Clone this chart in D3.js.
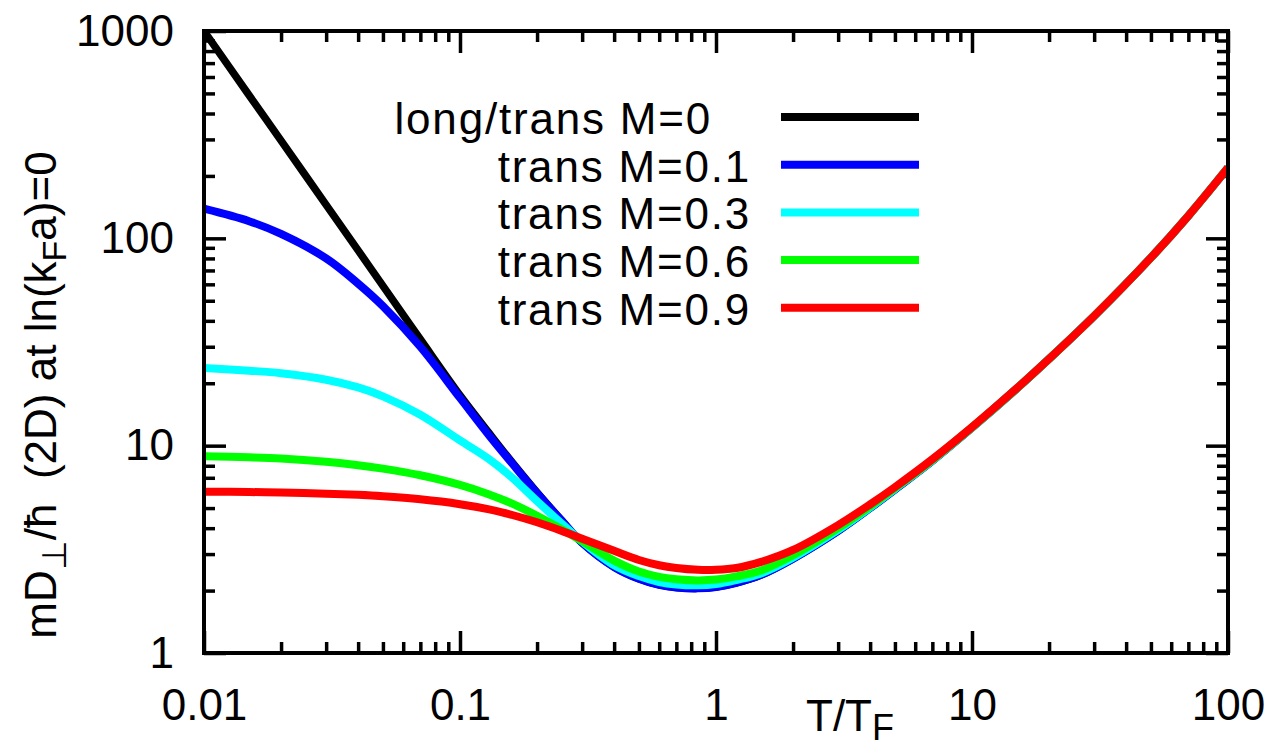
<!DOCTYPE html>
<html>
<head>
<meta charset="utf-8">
<script src="https://cdn.jsdelivr.net/npm/d3@7"></script>
<style>
  html, body { margin: 0; padding: 0; background: #fff; }
  svg { display: block; }
  text { font-family: "Liberation Sans", Arial, Helvetica, sans-serif; fill: #000; }
</style>
</head>
<body>
<svg id="chart" width="1280" height="748"></svg>
<script>
// Reduced temperature grid T/T_F
const temps = [0.01, 0.015, 0.02, 0.03, 0.04, 0.05, 0.07, 0.1, 0.13, 0.16, 0.2, 0.25, 0.3, 0.4, 0.5, 0.6, 0.7, 0.85, 1, 1.2, 1.5, 2, 3, 4, 5, 7, 10, 15, 20, 30, 50, 70, 100];

// mD/hbar for each spin-polarisation M
const longTransM0 = [1000, 490, 296, 145, 87.5, 59, 32.6, 17.5, 11.5, 8.3, 5.95, 4.35, 3.4, 2.6, 2.28, 2.13, 2.07, 2.05, 2.08, 2.18, 2.38, 2.85, 3.88, 5.0, 6.15, 8.45, 12.2, 18.9, 26.2, 42.2, 80.7, 128.4, 219];
const transM01   = [139, 121, 105, 80, 60.5, 47.1, 30.0, 17.0, 11.2, 8.2, 5.9, 4.33, 3.4, 2.6, 2.28, 2.13, 2.07, 2.05, 2.08, 2.18, 2.38, 2.85, 3.88, 5.0, 6.15, 8.45, 12.2, 18.9, 26.2, 42.2, 80.7, 128.4, 219];
const transM03   = [23.7, 23.0, 22.35, 20.8, 19.1, 17.3, 14.1, 10.6, 8.6, 7.0, 5.4, 4.2, 3.45, 2.65, 2.35, 2.2, 2.14, 2.12, 2.15, 2.25, 2.42, 2.88, 3.92, 5.03, 6.18, 8.48, 12.2, 18.9, 26.2, 42.2, 80.7, 128.4, 219];
const transM06   = [8.9, 8.79, 8.67, 8.36, 8.05, 7.75, 7.2, 6.47, 5.82, 5.25, 4.59, 3.94, 3.46, 2.79, 2.47, 2.33, 2.27, 2.24, 2.26, 2.34, 2.5, 2.96, 4.0, 5.1, 6.24, 8.53, 12.25, 18.93, 26.2, 42.2, 80.7, 128.4, 219];
const transM09   = [6.0, 5.976, 5.94, 5.87, 5.79, 5.7, 5.51, 5.22, 4.93, 4.63, 4.27, 3.88, 3.56, 3.11, 2.81, 2.65, 2.57, 2.52, 2.52, 2.57, 2.75, 3.14, 4.14, 5.21, 6.31, 8.6, 12.29, 18.96, 26.2, 42.2, 80.7, 128.4, 219];

const seriesNames  = ["long/trans M=0", "trans M=0.1", "trans M=0.3", "trans M=0.6", "trans M=0.9"];
const seriesColors = ["#000000", "#0000ff", "#00ffff", "#00ff00", "#ff0000"];
const seriesValues = [longTransM0, transM01, transM03, transM06, transM09];

const xMajorTicks = [0.01, 0.1, 1, 10, 100];
const xTickLabels = ["0.01", "0.1", "1", "10", "100"];
const yMajorTicks = [1, 10, 100, 1000];
const yTickLabels = ["1", "10", "100", "1000"];

const svg = d3.select("#chart");
const plotLeft = 204, plotRight = 1228, plotTop = 31, plotBottom = 653;

const x = d3.scaleLog().domain([0.01, 100]).range([plotLeft, plotRight]);
const y = d3.scaleLog().domain([1, 1000]).range([plotBottom, plotTop]);

// minor ticks: 2..9 in every decade
const minorOf = (majors) => {
  const out = [];
  for (let i = 0; i < majors.length - 1; i++)
    for (let k = 2; k <= 9; k++) out.push(majors[i] * k);
  return out;
};
const xMinor = minorOf(xMajorTicks);
const yMinor = minorOf(yMajorTicks);

const MAJ = 22, MIN = 11, FS = 44;

function styleAxis(g) {
  g.select(".domain").remove();
  g.selectAll(".tick line").attr("stroke", "#000").attr("stroke-width", 3.5);
  g.selectAll(".tick text").attr("font-size", FS).attr("font-family", "Liberation Sans, Arial, sans-serif").attr("fill", "#000");
}

// bottom axis (ticks point inward)
svg.append("g").attr("transform", `translate(0,${plotBottom})`)
  .call(d3.axisBottom(x).tickValues(xMajorTicks).tickSize(-MAJ).tickPadding(36)
    .tickFormat((d, i) => xTickLabels[i]))
  .call(styleAxis);
svg.append("g").attr("transform", `translate(0,${plotBottom})`)
  .call(d3.axisBottom(x).tickValues(xMinor).tickSize(-MIN).tickFormat(""))
  .call(styleAxis);
// top axis mirror
svg.append("g").attr("transform", `translate(0,${plotTop})`)
  .call(d3.axisTop(x).tickValues(xMajorTicks).tickSize(-MAJ).tickFormat(""))
  .call(styleAxis);
svg.append("g").attr("transform", `translate(0,${plotTop})`)
  .call(d3.axisTop(x).tickValues(xMinor).tickSize(-MIN).tickFormat(""))
  .call(styleAxis);
// left axis
svg.append("g").attr("transform", `translate(${plotLeft},0)`)
  .call(d3.axisLeft(y).tickValues(yMajorTicks).tickSize(-MAJ).tickPadding(30)
    .tickFormat((d, i) => yTickLabels[i]))
  .call(styleAxis);
svg.append("g").attr("transform", `translate(${plotLeft},0)`)
  .call(d3.axisLeft(y).tickValues(yMinor).tickSize(-MIN).tickFormat(""))
  .call(styleAxis);
// right axis mirror
svg.append("g").attr("transform", `translate(${plotRight},0)`)
  .call(d3.axisRight(y).tickValues(yMajorTicks).tickSize(-MAJ).tickFormat(""))
  .call(styleAxis);
svg.append("g").attr("transform", `translate(${plotRight},0)`)
  .call(d3.axisRight(y).tickValues(yMinor).tickSize(-MIN).tickFormat(""))
  .call(styleAxis);

// clip region for the curves
svg.append("clipPath").attr("id", "plotClip")
  .append("rect").attr("x", plotLeft).attr("y", plotTop)
  .attr("width", plotRight - plotLeft).attr("height", plotBottom - plotTop);

const line = d3.line()
  .x((d, i) => x(temps[i]))
  .y(d => y(d))
  .curve(d3.curveCatmullRom.alpha(0.5));

const curves = svg.append("g").attr("clip-path", "url(#plotClip)");
seriesValues.forEach((vals, s) => {
  curves.append("path")
    .datum(vals)
    .attr("d", line)
    .attr("fill", "none")
    .attr("stroke", seriesColors[s])
    .attr("stroke-width", s === 0 ? 7.5 : 8)
    .attr("stroke-linejoin", "round");
});

// frame
svg.append("rect")
  .attr("x", plotLeft).attr("y", plotTop)
  .attr("width", plotRight - plotLeft).attr("height", plotBottom - plotTop)
  .attr("fill", "none").attr("stroke", "#000").attr("stroke-width", 4);

// key
const key = svg.append("g");
seriesNames.forEach((name, s) => {
  const ly = 117 + s * 47.7;
  key.append("text")
    .attr("x", s === 0 ? 712 : 751).attr("y", ly + 17)
    .attr("text-anchor", "end")
    .attr("font-size", FS)
    .attr("letter-spacing", 1.8)
    .text(name);
  key.append("line")
    .attr("x1", 781).attr("x2", 919)
    .attr("y1", ly).attr("y2", ly)
    .attr("stroke", seriesColors[s]).attr("stroke-width", 8);
});

// x axis title
const xt = svg.append("text").attr("x", 806).attr("y", 731).attr("font-size", FS);
xt.append("tspan").text("T/T");
xt.append("tspan").attr("dy", 9).attr("font-size", 36).text("F");

// y axis title
const yt = svg.append("text")
  .attr("transform", "translate(56,395) rotate(-90)")
  .attr("text-anchor", "middle")
  .attr("font-size", FS);
yt.append("tspan").text("mD");
yt.append("tspan").attr("dy", 10).attr("font-size", 34).text("\u22A5");
yt.append("tspan").attr("dy", -10).text("/\u0127\u00A0 (2D) at ln(k");
yt.append("tspan").attr("dy", 10).attr("font-size", 34).text("F");
yt.append("tspan").attr("dy", -10).text("a)=0");
</script>
</body>
</html>
